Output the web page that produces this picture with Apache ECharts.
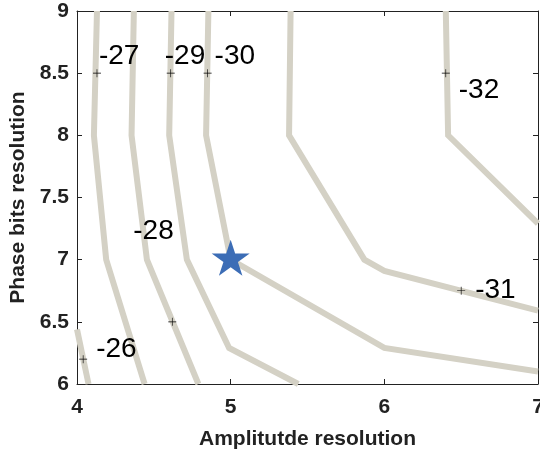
<!DOCTYPE html>
<html>
<head>
<meta charset="utf-8">
<script src="https://cdn.jsdelivr.net/npm/echarts@6/dist/echarts.min.js"></script>
<style>
  html, body { margin: 0; padding: 0; background: #fff; }
  #chart { width: 540px; height: 450px; }
</style>
</head>
<body>
<div id="chart"></div>
<script>
// contour levels and their polylines [amplitude, phase bits]
var levels = [-26, -27, -28, -29, -30, -31, -32];
var c26 = [[4, 6.44], [4.075, 6]];
var c27 = [[4.13, 9], [4.11, 8], [4.19, 7], [4.44, 6]];
var c28 = [[4.37, 9], [4.355, 8], [4.455, 7], [4.79, 6]];
var c29 = [[4.615, 9], [4.6, 8], [4.715, 7], [4.99, 6.29], [5.44, 6]];
var c30 = [[4.855, 9], [4.84, 8], [5, 7], [6, 6.29], [7, 6.1]];
var c31 = [[5.39, 9], [5.38, 8], [5.87, 7], [6, 6.91], [7, 6.59]];
var c32 = [[6.40, 9], [6.415, 8], [7, 7.29]];
var contours = [c26, c27, c28, c29, c30, c31, c32];

// label anchor points ("+") for each level, same order as levels
var labelPoints = [[4.04, 6.2], [4.13, 8.5], [4.62, 6.5], [4.61, 8.5], [4.85, 8.5], [6.5, 6.75], [6.40, 8.5]];

// the chosen point
var best = [5, 7];

var xTicks = [4, 5, 6, 7];
var yTicks = [6, 6.5, 7, 7.5, 8, 8.5, 9];

var font = "'Liberation Sans', Arial, Helvetica, sans-serif";
var axisColor = '#222';

// text offset from each "+" in pixels
var textOffsets = [[13, -10], [2, -17], [-39, -91], [-6, -17], [7, -17], [14, 0], [13, 17]];

var starPath = 'path://M0,-1L0.2245,-0.309L0.951,-0.309L0.363,0.118L0.588,0.809L0,0.382L-0.588,0.809L-0.363,0.118L-0.951,-0.309L-0.2245,-0.309Z';
var plusPath = 'path://M-0.08,-1h0.16v2h-0.16zM-1,-0.08h2v0.16h-2z';

var chart = echarts.init(document.getElementById('chart'));

function axisBase(pos, showLabel) {
    return {
        type: 'value',
        position: pos,
        axisLine: { show: true, onZero: false, lineStyle: { color: axisColor, width: 1 } },
        axisTick: { show: true, inside: true, length: 5, lineStyle: { color: axisColor } },
        splitLine: { show: false },
        axisLabel: {
            show: showLabel,
            color: axisColor,
            fontFamily: font,
            fontWeight: 'bold',
            fontSize: 21
        }
    };
}

var xBottom = axisBase('bottom', true);
xBottom.min = xTicks[0]; xBottom.max = xTicks[xTicks.length - 1]; xBottom.interval = 1;
xBottom.axisLabel.margin = 13;
xBottom.name = 'Amplitutde resolution';
xBottom.nameLocation = 'middle';
xBottom.nameGap = 45;
xBottom.nameTextStyle = { color: axisColor, fontFamily: font, fontWeight: 'bold', fontSize: 21 };

var xTop = axisBase('top', false);
xTop.min = xBottom.min; xTop.max = xBottom.max; xTop.interval = 1;

var yLeft = axisBase('left', true);
yLeft.min = yTicks[0]; yLeft.max = yTicks[yTicks.length - 1]; yLeft.interval = 0.5;
yLeft.axisLabel.margin = 8;
yLeft.name = 'Phase bits resolution';
yLeft.nameLocation = 'middle';
yLeft.nameGap = 48;
yLeft.nameTextStyle = { color: axisColor, fontFamily: font, fontWeight: 'bold', fontSize: 21 };

var yRight = axisBase('right', false);
yRight.min = yLeft.min; yRight.max = yLeft.max; yRight.interval = 0.5;

var series = [];
for (var i = 0; i < contours.length; i++) {
    series.push({
        name: String(levels[i]),
        type: 'line',
        data: contours[i],
        symbol: 'none',
        clip: false,
        silent: true,
        lineStyle: { color: '#d4d1c5', width: 6, cap: 'butt', join: 'miter' },
        z: 2
    });
}

var labelData = [];
for (var j = 0; j < levels.length; j++) {
    labelData.push({
        value: labelPoints[j],
        label: {
            show: true,
            position: 'inside',
            align: 'left',
            verticalAlign: 'middle',
            offset: textOffsets[j],
            formatter: String(levels[j]),
            color: '#000',
            fontFamily: font,
            fontSize: 28
        }
    });
}
series.push({
    type: 'scatter',
    data: labelData,
    symbol: plusPath,
    symbolSize: 8,
    itemStyle: { color: '#000', opacity: 1 },
    silent: true,
    z: 5
});

series.push({
    type: 'scatter',
    data: [best],
    symbol: starPath,
    symbolSize: [38, 36],
    symbolOffset: [0, -2],
    itemStyle: { color: '#3c6db6', opacity: 1 },
    silent: true,
    z: 6
});

chart.setOption({
    backgroundColor: '#fff',
    animation: false,
    grid: { left: 77, right: 2, top: 11, bottom: 66, containLabel: false, outerBoundsMode: 'none' },
    xAxis: [xBottom, xTop],
    yAxis: [yLeft, yRight],
    series: series
});
</script>
</body>
</html>
